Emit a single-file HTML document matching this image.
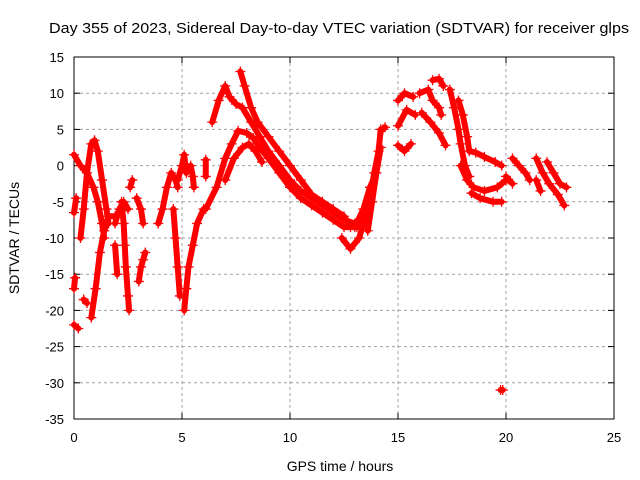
<!DOCTYPE html>
<html><head><meta charset="utf-8"><style>
html,body{margin:0;padding:0;background:#fff;}
svg{display:block;font-family:"Liberation Sans",sans-serif;}
</style></head><body>
<svg id="chart" width="640" height="480" viewBox="0 0 640 480">
<text x="49" y="33" textLength="580" lengthAdjust="spacingAndGlyphs" font-size="15">Day 355 of 2023, Sidereal Day-to-day VTEC variation (SDTVAR) for receiver glps</text>
<g id="grid"></g>
<g id="axes"></g>
<g id="marks"></g>
<text x="340" y="471" text-anchor="middle" font-size="14">GPS time / hours</text>
<text transform="translate(19,238) rotate(-90)" text-anchor="middle" font-size="14">SDTVAR / TECUs</text>
</svg>
<script>
const xTicks = [0,5,10,15,20,25];
const yTicks = [15,10,5,0,-5,-10,-15,-20,-25,-30,-35];
const tracks = [
 [[0,1.5],[0.3,0],[0.6,-1],[0.9,-3],[1.1,-5],[1.3,-8],[1.4,-10]],
 [[0.3,-10],[0.45,-6],[0.6,-1],[0.8,3],[0.95,3.5],[1.1,2],[1.3,-2],[1.5,-6],[1.6,-8]],
 [[0.8,-21],[1.0,-17],[1.2,-12],[1.4,-9],[1.6,-7],[1.9,-7]],
 [[0,-17],[0.05,-15.5]],
 [[0,-22],[0.2,-22.5]],
 [[0.45,-18.5],[0.6,-19]],
 [[0,-6.5],[0.1,-4.5]],
 [[1.9,-8],[2.1,-6],[2.3,-5],[2.5,-6]],
 [[2.2,-5],[2.3,-8],[2.35,-11],[2.4,-14],[2.5,-18],[2.55,-20]],
 [[1.9,-11],[2.0,-15]],
 [[2.6,-3],[2.7,-2]],
 [[2.9,-4.5],[3.1,-6],[3.2,-8]],
 [[3.0,-16],[3.1,-14],[3.2,-13],[3.3,-12]],
 [[3.9,-8],[4.1,-6],[4.3,-3],[4.5,-1],[4.7,-2],[4.8,-3]],
 [[4.8,-2],[5.0,0],[5.1,1.5],[5.2,-1]],
 [[4.6,-6],[4.7,-10],[4.8,-14],[4.9,-18]],
 [[5.1,-20],[5.2,-17],[5.3,-14],[5.5,-11],[5.7,-8],[6.0,-6]],
 [[5.4,0],[5.5,-1.5],[5.55,-3]],
 [[6.1,0.8],[6.1,-1.5]],
 [[6.4,6],[6.7,9],[7.0,11],[7.2,9.5],[7.5,8.5],[7.8,8],[8.2,6],[8.6,4],[9.0,2],[9.5,0],[10,-2],[10.5,-3.5],[11,-4.5],[11.5,-5.5],[12,-6.5],[12.5,-7.5],[13,-8]],
 [[7.7,13],[7.9,11],[8.2,8],[8.5,6],[9.0,4],[9.5,2],[10,0],[10.5,-2],[11,-4],[11.5,-5],[12,-6],[12.5,-7],[12.8,-8.5],[13.1,-8.5],[13.4,-7]],
 [[6.1,-6],[6.6,-3],[7.0,1],[7.3,3],[7.6,4.8],[8.0,4.5],[8.3,3.8],[8.6,2.5],[9,1],[9.5,-1],[10,-3],[10.5,-4.5],[11,-5.5],[11.5,-6.5],[12,-7.5],[12.5,-8.5],[13,-8.5],[13.4,-6],[13.7,-3],[14,-1]],
 [[7.0,-2],[7.4,1],[7.8,2.5],[8.1,3],[8.4,2],[8.7,0.5]],
 [[12.4,-10],[12.8,-11.5],[13.2,-10],[13.6,-6],[13.9,-1],[14.1,2],[14.2,5]],
 [[13.6,-9],[13.8,-5],[14.0,-1],[14.2,2.5]],
 [[14.3,5],[14.4,5.3]],
 [[15.0,9],[15.3,10],[15.7,9.5]],
 [[15.0,5.5],[15.4,7.7],[15.8,7]],
 [[15.0,2.8],[15.3,2],[15.6,3]],
 [[16.0,10],[16.4,10.5],[16.6,9],[16.9,8],[17.0,7]],
 [[16.6,11.8],[16.9,12],[17.1,11]],
 [[16.1,7.3],[16.5,6],[16.9,4.5],[17.2,2.8]],
 [[17.4,10.5],[17.6,8],[17.8,5],[17.9,3],[18.1,0],[18.3,-1.5]],
 [[17.8,9],[18.0,7],[18.2,4],[18.3,2],[18.6,1.8],[19,1.2],[19.5,0.5],[19.8,0]],
 [[17.9,0],[18.2,-2],[18.5,-3],[19.0,-3.5],[19.6,-3],[20,-2]],
 [[18.4,-3.8],[18.8,-4.5],[19.4,-5],[19.8,-5]],
 [[20.3,1],[20.6,0],[20.9,-1],[21.1,-2]],
 [[21.4,1],[21.7,-1],[22.0,-2.5],[22.4,-4],[22.7,-5.5]],
 [[21.9,0.5],[22.2,-1],[22.5,-2.5],[22.8,-3]],
 [[21.4,-2],[21.6,-3.5]],
 [[20.0,-1.5],[20.3,-2.5]],
 [[19.75,-31],[19.85,-31]]
];
const NS='http://www.w3.org/2000/svg';
const L=74,R=614,T=57,B=419;
const xMin=0,xMax=25,yMin=-35,yMax=15;
function sx(v){return L+(v-xMin)/(xMax-xMin)*(R-L);}
function sy(v){return B-(v-yMin)/(yMax-yMin)*(B-T);}
function mk(tag,attrs,parent){const e=document.createElementNS(NS,tag);for(const k in attrs)e.setAttribute(k,attrs[k]);parent.appendChild(e);return e;}
const grid=document.getElementById('grid'),axes=document.getElementById('axes'),marks=document.getElementById('marks');
xTicks.forEach(t=>{const x=sx(t);
 if(t>xMin&&t<xMax){const g=mk('line',{x1:x,y1:T,x2:x,y2:B,stroke:'#a0a0a0','stroke-dasharray':'3,3','stroke-width':1},grid);
 
 }
 mk('line',{x1:x,y1:B,x2:x,y2:B-6,stroke:'#000'},axes);
 mk('line',{x1:x,y1:T,x2:x,y2:T+6,stroke:'#000'},axes);
 const lb=mk('text',{x:x,y:B+23,'text-anchor':'middle','font-size':13},axes);lb.textContent=t;
 
 
});
yTicks.forEach(t=>{const y=sy(t);
 if(t>yMin&&t<yMax){const g=mk('line',{x1:L,y1:y,x2:R,y2:y,stroke:'#a0a0a0','stroke-dasharray':'3,3','stroke-width':1},grid);
 
 }
 mk('line',{x1:L,y1:y,x2:L+6,y2:y,stroke:'#000'},axes);
 mk('line',{x1:R,y1:y,x2:R-6,y2:y,stroke:'#000'},axes);
 const lb=mk('text',{x:L-10,y:y+5,'text-anchor':'end','font-size':13},axes);lb.textContent=t;
 
 
});
mk('rect',{x:L,y:T,width:R-L,height:B-T,fill:'none',stroke:'#000','stroke-width':1},axes);
tracks.forEach((tr,i)=>{
 const g=mk('g',{},marks);
 
 
 mk('polyline',{points:tr.map(p=>sx(p[0])+','+sy(p[1])).join(' '),fill:'none',stroke:'#f00','stroke-width':6,'stroke-linejoin':'round','stroke-linecap':'round'},g);
 tr.forEach(p=>{const x=sx(p[0]),y=sy(p[1]);
  mk('path',{d:`M${x-5},${y}H${x+5}M${x},${y-5}V${y+5}`,stroke:'#f00','stroke-width':1.3},g);
 });
});
</script>
</body></html>
